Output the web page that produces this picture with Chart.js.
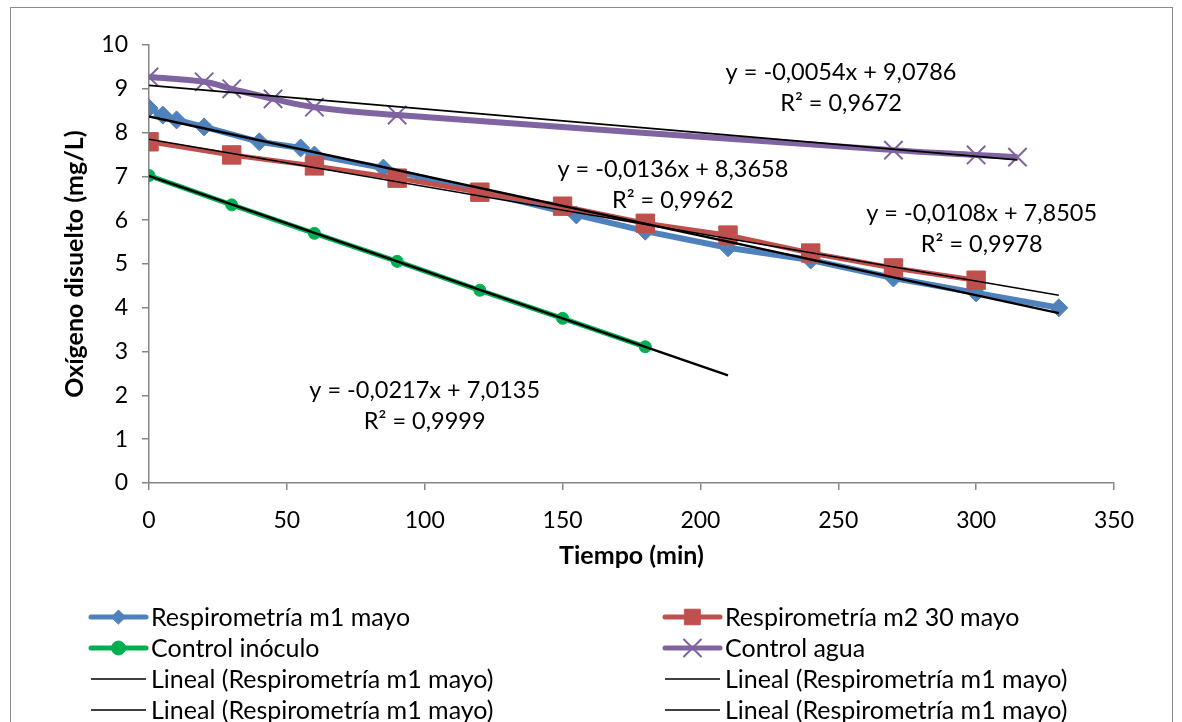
<!DOCTYPE html>
<html lang="es">
<head>
<meta charset="utf-8">
<title>Oxígeno disuelto</title>
<script src="https://cdn.jsdelivr.net/npm/chart.js@4.4.1/dist/chart.umd.min.js"></script>
<style>
  html, body { margin: 0; padding: 0; background: #fff; overflow: hidden; }
  #chart { display: block; }
</style>
</head>
<body>
<canvas id="chart" width="1182" height="722"></canvas>
<script>
// valores
const tiempoM1 = [0, 5, 10, 20, 40, 55, 60, 85, 155, 180, 210, 240, 270, 300, 330];
const oxigenoM1 = [8.56, 8.40, 8.29, 8.13, 7.79, 7.65, 7.49, 7.19, 6.12, 5.75, 5.37, 5.09, 4.68, 4.34, 4.00];
const tiempoM2 = [0, 30, 60, 90, 120, 150, 180, 210, 240, 270, 300];
const oxigenoM2 = [7.79, 7.49, 7.24, 6.96, 6.64, 6.32, 5.93, 5.66, 5.25, 4.91, 4.63];
const tiempoInoculo = [0, 30, 60, 90, 120, 150, 180];
const oxigenoInoculo = [7.02, 6.35, 5.70, 5.06, 4.40, 3.76, 3.11];
const tiempoAgua = [0, 20, 30, 45, 60, 90, 270, 300, 315];
const oxigenoAgua = [9.27, 9.16, 9.00, 8.77, 8.58, 8.40, 7.60, 7.49, 7.44];

// extremos de las lineas de tendencia (inicio, fin)
const tendM1X = [0, 330], tendM1Y = [8.3658, 3.8778];
const tendM2X = [0, 330], tendM2Y = [7.8505, 4.2865];
const tendInoculoX = [0, 210], tendInoculoY = [7.0135, 2.4565];
const tendAguaX = [0, 315], tendAguaY = [9.0786, 7.3776];

const ecuaciones = ['y = -0,0136x + 8,3658', 'y = -0,0108x + 7,8505', 'y = -0,0217x + 7,0135', 'y = -0,0054x + 9,0786'];
const coefR2 = ['R² = 0,9962', 'R² = 0,9978', 'R² = 0,9999', 'R² = 0,9672'];

const xTicks = [0, 50, 100, 150, 200, 250, 300, 350];
const yTicks = [0, 1, 2, 3, 4, 5, 6, 7, 8, 9, 10];

const FONT = 'Lato, "Open Sans", sans-serif';

function pts(xs, ys) {
    return xs.map((x, i) => ({ x: x, y: ys[i] }));
}

function trend(xs, ys, width) {
    return {
        label: 'Lineal (Respirometría m1 mayo)',
        data: pts(xs, ys),
        borderColor: '#000',
        borderWidth: width,
        pointRadius: 0,
        order: 0,
        legendStyle: null
    };
}

const datasets = [
    { label: 'Respirometría m1 mayo', data: pts(tiempoM1, oxigenoM1), borderColor: '#4F81BD', backgroundColor: '#4F81BD',
      borderWidth: 6, pointStyle: 'rectRot', pointRadius: 9, pointBorderWidth: 1, order: 4, legendStyle: 'rectRot' },
    { label: 'Respirometría m2 30 mayo', data: pts(tiempoM2, oxigenoM2), borderColor: '#C0504D', backgroundColor: '#C0504D',
      borderWidth: 5, pointStyle: 'rect', pointRadius: 13, pointBorderWidth: 1, order: 3, legendStyle: 'rect' },
    { label: 'Control inóculo', data: pts(tiempoInoculo, oxigenoInoculo), borderColor: '#00B050', backgroundColor: '#00B050',
      borderWidth: 5, pointStyle: 'circle', pointRadius: 6, pointBorderWidth: 1, order: 2, legendStyle: 'circle' },
    { label: 'Control agua', data: pts(tiempoAgua, oxigenoAgua), borderColor: '#8064A2', backgroundColor: '#8064A2',
      borderWidth: 6, pointStyle: 'crossRot', pointRadius: 13, pointBorderWidth: 2, tension: 0.4, order: 1, legendStyle: 'crossRot' },
    trend(tendM1X, tendM1Y, 2.5),
    trend(tendM2X, tendM2Y, 1.5),
    trend(tendInoculoX, tendInoculoY, 2.5),
    trend(tendAguaX, tendAguaY, 1.8)
];

// posiciones de las etiquetas de ecuacion, en unidades de los ejes
const etiquetas = [
    { x: 190, y: 7.15, i: 0 },
    { x: 302, y: 6.16, i: 1 },
    { x: 100, y: 2.12, i: 2 },
    { x: 251, y: 9.38, i: 3 }
];

const extras = {
    id: 'extras',
    beforeDraw(chart) {
        const ctx = chart.ctx;
        ctx.save();
        ctx.strokeStyle = '#8c8c8c';
        ctx.lineWidth = 1;
        ctx.strokeRect(10.5, 7.5, 1162, 740);
        ctx.restore();
    },
    afterDraw(chart) {
        const ctx = chart.ctx;
        const xs = chart.scales.x, ys = chart.scales.y;
        ctx.save();
        ctx.fillStyle = '#000';
        ctx.font = '23.5px ' + FONT;
        ctx.textAlign = 'center';
        ctx.textBaseline = 'middle';
        etiquetas.forEach(e => {
            const px = xs.getPixelForValue(e.x);
            const py = ys.getPixelForValue(e.y);
            ctx.fillText(ecuaciones[e.i], px, py);
            ctx.fillText(coefR2[e.i], px, py + 31);
        });

        // leyenda en dos columnas
        const cols = [{ x0: 91, x1: 146, tx: 151 }, { x0: 665, x1: 720, tx: 725 }];
        const rowY = [617, 648, 679, 710];
        ctx.textAlign = 'left';
        ctx.font = '25px ' + FONT;
        chart.data.datasets.forEach((ds, i) => {
            const c = cols[i % 2];
            const y = rowY[Math.floor(i / 2)];
            ctx.beginPath();
            ctx.strokeStyle = ds.borderColor;
            ctx.lineWidth = ds.legendStyle ? 5 : 1.5;
            ctx.lineCap = ds.legendStyle ? 'round' : 'butt';
            ctx.moveTo(c.x0, y);
            ctx.lineTo(c.x1, y);
            ctx.stroke();
            if (ds.legendStyle) {
                ctx.fillStyle = ds.backgroundColor;
                ctx.strokeStyle = ds.borderColor;
                const cross = ds.legendStyle === 'crossRot';
                ctx.lineWidth = cross ? 2 : 1;
                const r = ds.legendStyle === 'rect' ? 11 : (cross ? 12 : 7);
                Chart.helpers.drawPoint(ctx, { pointStyle: ds.legendStyle, radius: r, rotation: 0, borderWidth: ctx.lineWidth },
                    (c.x0 + c.x1) / 2, y);
            }
            ctx.fillStyle = '#000';
            ctx.fillText(ds.label, c.tx, y + 1);
        });
        ctx.restore();
    }
};

function init() {
    const ctx = document.getElementById('chart').getContext('2d');
    new Chart(ctx, {
        type: 'line',
        data: { datasets: datasets },
        options: {
            responsive: false,
            animation: false,
            layout: { padding: { left: 0, top: 45, right: 68, bottom: 139 } },
            plugins: { legend: { display: false }, tooltip: { enabled: false } },
            scales: {
                x: {
                    type: 'linear', min: 0, max: 350,
                    afterFit: s => { s.height = 100; },
                    afterBuildTicks: s => { s.ticks = xTicks.map(v => ({ value: v })); },
                    border: { color: '#868686', width: 1.5 },
                    grid: { drawOnChartArea: false, drawTicks: true, tickLength: 7, color: '#868686', lineWidth: 1.5 },
                    ticks: { color: '#000', font: { family: FONT, size: 23 }, padding: 17, maxRotation: 0 },
                    title: { display: true, text: 'Tiempo (min)', color: '#000',
                             font: { family: FONT, size: 25, weight: 'bold' }, padding: { top: 0, bottom: 12 } }
                },
                y: {
                    type: 'linear', min: 0, max: 10,
                    afterFit: s => { s.width = 149; },
                    afterBuildTicks: s => { s.ticks = yTicks.map(v => ({ value: v })); },
                    border: { color: '#868686', width: 1.5 },
                    grid: { drawOnChartArea: false, drawTicks: true, tickLength: 7, color: '#868686', lineWidth: 1.5 },
                    ticks: { color: '#000', font: { family: FONT, size: 23 }, padding: 14 },
                    title: { display: true, text: 'Oxígeno disuelto (mg/L)', color: '#000',
                             font: { family: FONT, size: 25, weight: 'bold' }, padding: { top: 60, bottom: 0 } }
                }
            }
        },
        plugins: [extras]
    });
}

init();
</script>
</body>
</html>
